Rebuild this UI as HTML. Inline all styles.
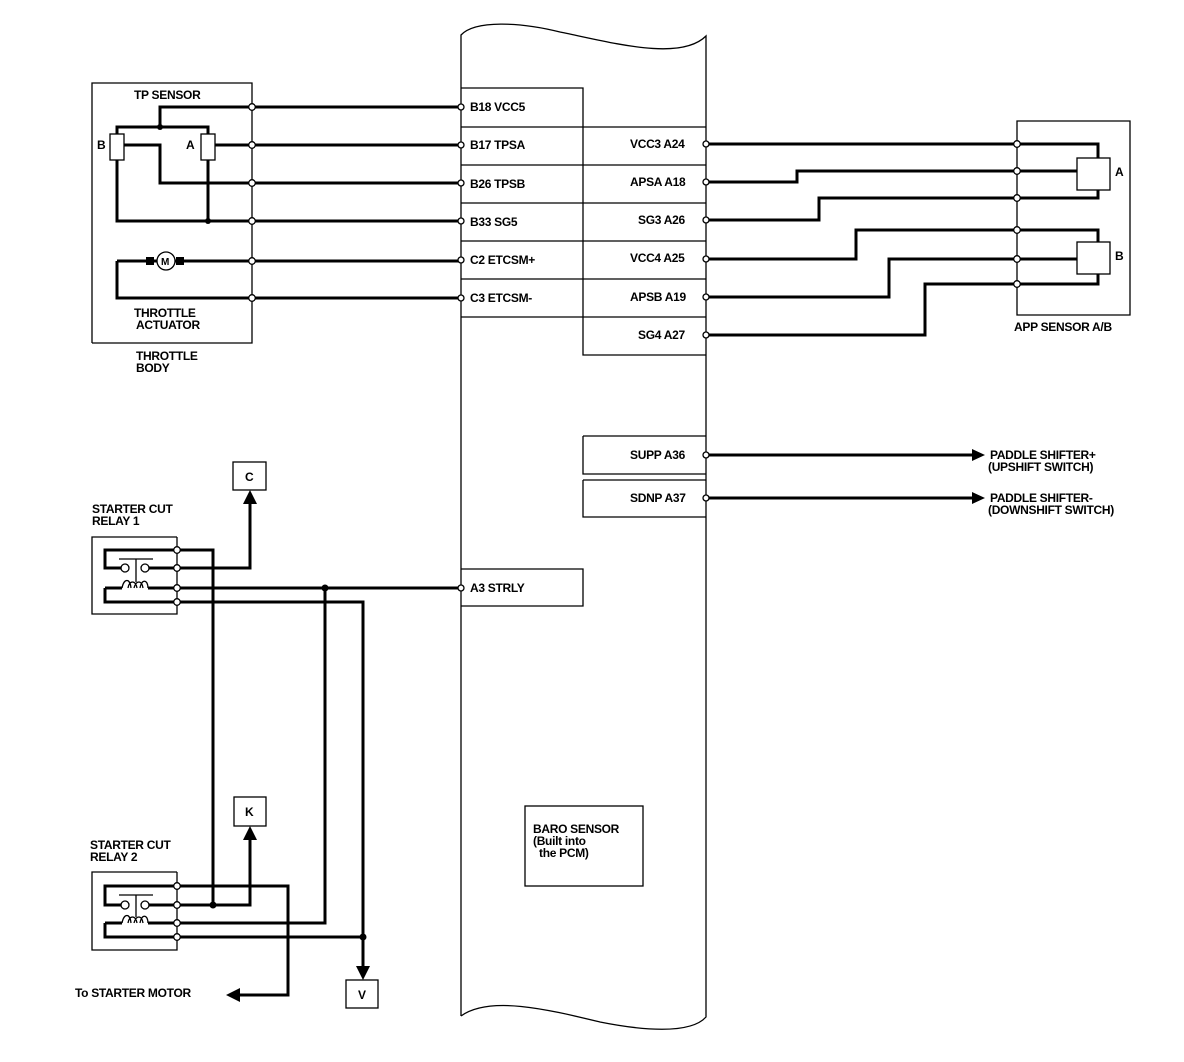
<!DOCTYPE html>
<html><head><style>
html,body{margin:0;padding:0;background:#fff}
svg{display:block}
text{font-family:"Liberation Sans",sans-serif;font-weight:bold;font-size:12px;fill:#000;letter-spacing:-0.3px}
.w{stroke:#000;stroke-width:3;fill:none}
.t{stroke:#000;stroke-width:1.3;fill:none}
.c{fill:#fff;stroke:#000;stroke-width:1.3}
</style></head><body>
<svg width="1184" height="1062" viewBox="0 0 1184 1062">
<path class="t" d="M461,1016 L461,35 C475,20 520,22 560,32 C610,42 680,62 706,36 L706,1017 C690,1035 640,1030 600,1022 C550,1010 490,995 461,1016" stroke-width="2"/>
<path class="t" d="M461,88 H583 V317 M461,127 H706 M461,165 H706 M461,203 H706 M461,241 H706 M461,279 H706 M461,317 H706 M583,317 V355 H706"/>
<text x="470" y="111">B18 VCC5</text>
<text x="470" y="149">B17 TPSA</text>
<text x="470" y="188">B26 TPSB</text>
<text x="470" y="226">B33 SG5</text>
<text x="470" y="264">C2 ETCSM+</text>
<text x="470" y="302">C3 ETCSM-</text>
<text x="630" y="148">VCC3 A24</text>
<text x="630" y="186">APSA A18</text>
<text x="638" y="224">SG3 A26</text>
<text x="630" y="262">VCC4 A25</text>
<text x="630" y="301">APSB A19</text>
<text x="638" y="339">SG4 A27</text>
<path class="t" d="M92,343 V83 H252 V343 H92"/>
<text x="134" y="99">TP SENSOR</text>
<text x="134" y="317">THROTTLE</text>
<text x="136" y="329">ACTUATOR</text>
<text x="136" y="360">THROTTLE</text>
<text x="136" y="372">BODY</text>
<text x="97" y="149">B</text>
<text x="186" y="149">A</text>
<path class="w" d="M160,127 V107 H461 M117,134 V127 H208 V134 M124,145 H160 V183 H461 M215,145 H461 M117,160 V221 H461 M208,160 V221 M148,261 H461 M117,261 V298 H461 M117,261 H150" stroke-width="2.5"/>
<rect x="110" y="134" width="14" height="26" class="c"/>
<rect x="201" y="134" width="14" height="26" class="c"/>
<circle cx="160" cy="127" r="3"/><circle cx="208" cy="221" r="3"/>
<rect x="146" y="257" width="8" height="8"/><rect x="176" y="257" width="8" height="8"/>
<circle cx="166" cy="261" r="9" class="c"/>
<text x="161" y="265" style="font-size:10px">M</text>
<path class="t" d="M1017,121 V315 H1130 V121 Z"/>
<text x="1014" y="331">APP SENSOR A/B</text>
<path class="w" d="M706,144 H1098 V158 M706,182 H797 V171 H1077 M706,220 H819 V198 H1098 V190 M706,259 H856 V230 H1098 V242 M706,297 H889 V259 H1077 M706,335 H925 V284 H1098 V274" stroke-width="2.5"/>
<rect x="1077" y="158" width="33" height="32" class="c"/>
<rect x="1077" y="242" width="33" height="32" class="c"/>
<text x="1115" y="176">A</text>
<text x="1115" y="260">B</text>
<path class="t" d="M583,436 H706 M583,436 V474 H706 M583,480 H706 M583,480 V517 H706"/>
<text x="630" y="459">SUPP A36</text>
<text x="630" y="502">SDNP A37</text>
<path class="w" d="M706,455 H975 M706,498 H975" stroke-width="2.5"/>
<path d="M972,449 L985,455 L972,461Z M972,492 L985,498 L972,504Z"/>
<text x="990" y="459">PADDLE SHIFTER+</text>
<text x="988" y="471">(UPSHIFT SWITCH)</text>
<text x="990" y="502">PADDLE SHIFTER-</text>
<text x="988" y="514">(DOWNSHIFT SWITCH)</text>
<path class="t" d="M461,569 H583 V606 H461"/>
<text x="470" y="592">A3 STRLY</text>
<rect x="525" y="806" width="118" height="80" class="t"/>
<text x="533" y="833">BARO SENSOR</text>
<text x="533" y="845">(Built into</text>
<text x="539" y="857">the PCM)</text>
<text x="92" y="513">STARTER CUT</text>
<text x="92" y="525">RELAY 1</text>
<path class="t" d="M177,537 H92 V614 H177 V537"/>
<path class="w" d="M177,550 H213 V905 M177,550 H105 V568 H122 M148,568 H250 V500 M177,588 H461 M148,588 H177 M105,588 H122 M105,588 V602 H363 V970 M325,588 V923 H177" stroke-width="2.5"/>
<path class="t" d="M119,559 H153 M136,559 V582 M119,895 H153 M136,895 V917"/>
<path d="M243,504 L250,490 L257,504Z"/>
<rect x="233" y="462" width="33" height="28" class="t"/>
<text x="245" y="481">C</text>
<circle cx="325" cy="588" r="3.5"/>
<text x="90" y="849">STARTER CUT</text>
<text x="90" y="861">RELAY 2</text>
<path class="t" d="M177,872 H92 V950 H177 V872"/>
<path class="w" d="M177,886 H288 V995 H238 M177,886 H105 V905 H122 M148,905 H250 V836 M105,923 H122 M148,923 H177 M105,923 V937 H363" stroke-width="2.5"/>
<path d="M243,840 L250,826 L257,840Z"/>
<rect x="234" y="797" width="32" height="29" class="t"/>
<text x="245" y="816">K</text>
<path d="M240,988 L226,995 L240,1002Z"/>
<text x="75" y="997">To STARTER MOTOR</text>
<circle cx="213" cy="905" r="3.5"/><circle cx="363" cy="937" r="3.5"/>
<path d="M356,966 L363,980 L370,966Z"/>
<rect x="346" y="980" width="32" height="28" class="t"/>
<text x="358" y="999">V</text>
<g class="c">
<circle cx="125" cy="568" r="4"/><circle cx="145" cy="568" r="4"/>
<circle cx="125" cy="905" r="4"/><circle cx="145" cy="905" r="4"/>
</g>
<path class="t" d="M122,588 C124,578 130,578 131,588 M128,588 C129,580 136,580 137,588 M134,588 C136,580 142,580 143,588 M140,588 C142,578 148,580 148,588" stroke-width="1.8"/>
<path class="t" d="M122,923 C124,913 130,913 131,923 M128,923 C129,915 136,915 137,923 M134,923 C136,915 142,915 143,923 M140,923 C142,913 148,915 148,923" stroke-width="1.8"/>
<g class="c">
<circle cx="252" cy="107" r="3.3"/><circle cx="252" cy="145" r="3.3"/><circle cx="252" cy="183" r="3.3"/><circle cx="252" cy="221" r="3.3"/><circle cx="252" cy="261" r="3.3"/><circle cx="252" cy="298" r="3.3"/>
<circle cx="461" cy="107" r="3"/><circle cx="461" cy="145" r="3"/><circle cx="461" cy="183" r="3"/><circle cx="461" cy="221" r="3"/><circle cx="461" cy="260" r="3"/><circle cx="461" cy="298" r="3"/><circle cx="461" cy="588" r="3"/>
<circle cx="706" cy="144" r="3"/><circle cx="706" cy="182" r="3"/><circle cx="706" cy="220" r="3"/><circle cx="706" cy="259" r="3"/><circle cx="706" cy="297" r="3"/><circle cx="706" cy="335" r="3"/><circle cx="706" cy="455" r="3"/><circle cx="706" cy="498" r="3"/>
<circle cx="1017" cy="144" r="3.3"/><circle cx="1017" cy="171" r="3.3"/><circle cx="1017" cy="198" r="3.3"/><circle cx="1017" cy="230" r="3.3"/><circle cx="1017" cy="259" r="3.3"/><circle cx="1017" cy="284" r="3.3"/>
<circle cx="177" cy="550" r="3.3"/><circle cx="177" cy="568" r="3.3"/><circle cx="177" cy="588" r="3.3"/><circle cx="177" cy="602" r="3.3"/>
<circle cx="177" cy="886" r="3.3"/><circle cx="177" cy="905" r="3.3"/><circle cx="177" cy="923" r="3.3"/><circle cx="177" cy="937" r="3.3"/>
</g>
</svg>
</body></html>
